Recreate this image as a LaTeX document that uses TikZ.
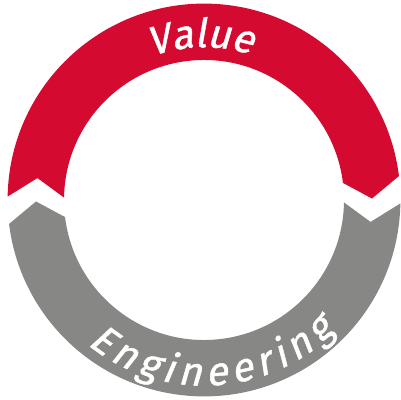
\documentclass[tikz,border=0pt]{standalone}
\usepackage{fontspec}
\newfontfamily\ringfont{Fira Sans}[FakeBold=1.2, FakeSlant=0.2]
\usetikzlibrary{decorations.text}
\definecolor{ringred}{RGB}{213,10,48}
\definecolor{ringgray}{RGB}{135,135,133}
\newcommand{\ringsize}{\ringfont\fontsize{28.5}{31}\selectfont}

\begin{document}
\begin{tikzpicture}[
    ringtext/.style={decorate, decoration={text along path, text color=white,
                     text align=fit to path, text={|\ringsize|#1}}}]
        \useasboundingbox (-5.1,-5) rectangle (4.925,5);
        % upper arrow: notch on the left, tip on the right
        \fill [ringred]  (179:4.91) arc[start angle=179, end angle=7, radius=4.91]
                         -- (0.5:4.2) -- (7:3.5)
                         arc[start angle=7, end angle=179, radius=3.5]
                         -- (172.5:4.2) -- cycle;                   %
        % lower arrow: notch on the right, tip on the left
        \fill [ringgray] (-1:4.91) arc[start angle=-1, end angle=-173, radius=4.91]
                         -- (-179.5:4.2) -- (-173:3.5)
                         arc[start angle=-173, end angle=-1, radius=3.5]
                         -- (-7.5:4.2) -- cycle;                    %
        \path [ringtext=Value]       (110:3.82) arc[start angle=110, end angle=74, radius=3.82];   %
        \path [ringtext=Engineering] (231:4.64) arc[start angle=231, end angle=315, radius=4.64];   %
\end{tikzpicture}
\end{document}
